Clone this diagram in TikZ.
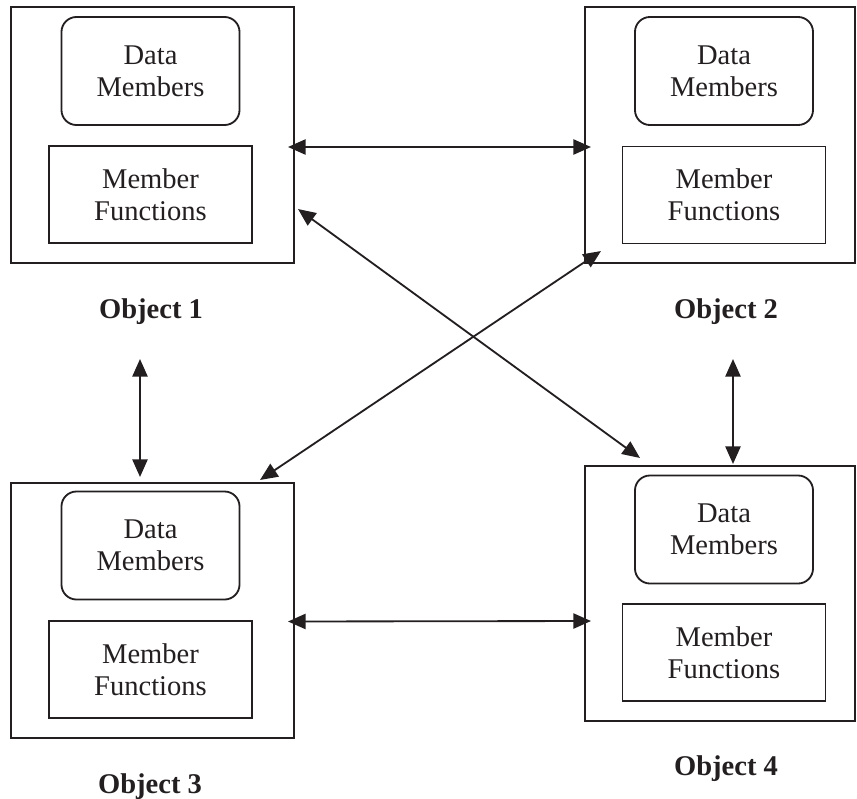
\documentclass[tikz,border=0pt]{standalone}
\usepackage{fontspec}
\setmainfont{Liberation Serif}
\usepackage{tikz}
\usetikzlibrary{positioning, calc, arrows.meta}

\definecolor{ink}{HTML}{231F20}

\begin{document}
\begin{tikzpicture}[x=0.025cm, y=-0.025cm, thick, >={Triangle[length=0.44cm, width=0.38cm]}]
        % Define block styles
        \tikzstyle{object} = [rectangle, draw=ink, line width=2pt, inner sep=0pt, outer sep=0pt, minimum height=6.4cm]
        \tikzstyle{members} = [rectangle, draw=ink, line width=1.3pt, rounded corners=0.375cm, align=center, text=ink, minimum width=4.45cm, minimum height=2.7cm, font=\fontsize{20.3}{23}\selectfont]
        \tikzstyle{functions} = [rectangle, draw=ink, line width=1.3pt, align=center, text=ink, minimum width=5.075cm, minimum height=2.425cm, font=\fontsize{20.3}{23}\selectfont]
        \tikzstyle{caption} = [anchor=base, text=ink, font=\fontsize{20.3}{23}\selectfont\bfseries]
        \tikzstyle{link} = [<->, draw=ink, line width=1.3pt]

        \useasboundingbox (0,0) rectangle (857,798);

        % Place nodes
        \node [object, minimum width=7.075cm] (object1) at (152.5,135) {};
        \node [members] (data1) at (150.5,71) {Data\\Members};
        \node [functions] (functions1) at (150.5,194.5) {Member\\Functions};
        \node [caption] (label1) at (151,318) {Object 1};

        \node [object, minimum width=6.75cm] (object2) at (720,135) {};
        \node [members] (data2) at (724,71) {Data\\Members};
        \node [functions] (functions2) at (724,195) {Member\\Functions};
        \node [caption] (label2) at (726,318) {Object 2};

        \node [object, minimum width=7.075cm, minimum height=6.375cm] (object3) at (152.5,610.5) {};
        \node [members] (data3) at (150.5,545.5) {Data\\Members};
        \node [functions] (functions3) at (150.5,669.5) {Member\\Functions};
        \node [caption] (label3) at (150,793) {Object 3};

        \node [object, minimum width=6.75cm, minimum height=6.375cm] (object4) at (720,593.5) {};
        \node [members] (data4) at (724,529.5) {Data\\Members};
        \node [functions] (functions4) at (724,652.5) {Member\\Functions};
        \node [caption] (label4) at (726,775) {Object 4};

        % Draw connections as arrows
        \draw [link] ($(object1.east)+(-6,12)$) -- ($(object2.west)+(6,12)$);
        \draw [link] ($(object3.east)+(-6,11)$) -- ($(object4.west)+(6,27.5)$);
        \draw [link] ($(object1.south)+(-12.5,96)$) -- ($(object3.north)+(-12.5,-6)$);
        \draw [link] ($(object2.south)+(13,96)$) -- ($(object4.north)+(13,-2)$);
        \draw [link] ($(object1.south east)+(4,-54)$) -- ($(object4.north west)+(55,-8)$);
        \draw [link] ($(object2.south west)+(16,-12)$) -- ($(object3.north east)+(-34,-3)$);
    \end{tikzpicture}
\end{document}
